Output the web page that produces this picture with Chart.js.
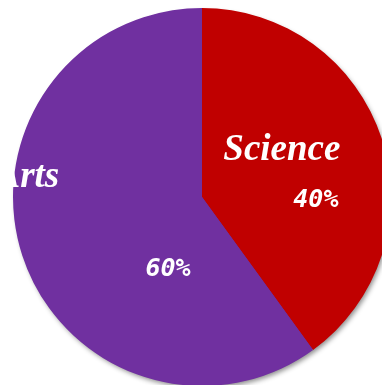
<!DOCTYPE html>
<html>
<head>
<meta charset="utf-8">
<script src="https://cdn.jsdelivr.net/npm/chart.js@4"></script>
<style>
  html, body { margin: 0; padding: 0; background: #fff; overflow: hidden; width: 382px; height: 385px; }
  #pieChart { position: absolute; left: 0; top: 0; }
</style>
</head>
<body>
<canvas id="pieChart" width="404" height="400"></canvas>
<script>
var categories = ['Science', 'Arts'];
var shares = [40, 60];
var sliceColors = ['#c00000', '#7030a0'];

// where each label sits: angle from 12 o'clock (deg) and fraction of radius
var namePlace = [[59.6, 0.49], [276.5, 0.93]];
var pctPlace = [[92, 0.603], [205, 0.426]];

var shadowPlugin = {
    id: 'pieShadow',
    beforeDatasetsDraw: function(chart) {
        var arc = chart.getDatasetMeta(0).data[0];
        var c = chart.ctx;
        c.save();
        c.shadowColor = 'rgba(0,0,0,0.45)';
        c.shadowBlur = 5;
        c.shadowOffsetX = 2;
        c.shadowOffsetY = 3;
        c.fillStyle = '#7030a0';
        c.beginPath();
        c.arc(arc.x, arc.y, arc.outerRadius - 1, 0, Math.PI * 2);
        c.fill();
        c.restore();
    }
};

var labelPlugin = {
    id: 'sliceLabels',
    afterDatasetsDraw: function(chart) {
        var meta = chart.getDatasetMeta(0);
        var c = chart.ctx;
        c.save();
        c.fillStyle = '#ffffff';
        c.textAlign = 'center';
        c.textBaseline = 'middle';
        meta.data.forEach(function(arc, i) {
            var p = namePlace[i];
            var a = p[0] * Math.PI / 180;
            c.font = 'italic bold 37px "Liberation Serif", "Times New Roman", serif';
            c.fillText(categories[i], arc.x + Math.sin(a) * arc.outerRadius * p[1],
                arc.y - Math.cos(a) * arc.outerRadius * p[1]);
            p = pctPlace[i];
            a = p[0] * Math.PI / 180;
            c.font = 'italic bold 25px "DejaVu Sans Mono", "Liberation Mono", monospace';
            c.fillText(shares[i] + '%', arc.x + Math.sin(a) * arc.outerRadius * p[1],
                arc.y - Math.cos(a) * arc.outerRadius * p[1]);
        });
        c.restore();
    }
};

var ctx = document.getElementById('pieChart').getContext('2d');
var pieChart = new Chart(ctx, {
    type: 'pie',
    data: {
        labels: categories,
        datasets: [{
            data: shares,
            backgroundColor: sliceColors,
            borderWidth: 0
        }]
    },
    options: {
        responsive: false,
        animation: false,
        layout: { padding: { left: 13, right: 13, top: 8, bottom: 14 } },
        plugins: {
            legend: { display: false },
            tooltip: { enabled: false }
        }
    },
    plugins: [shadowPlugin, labelPlugin]
});
</script>
</body>
</html>
